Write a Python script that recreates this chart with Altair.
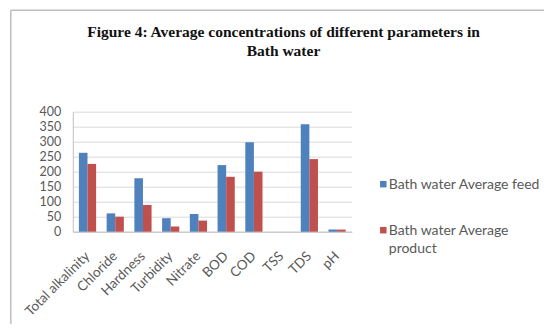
import altair as alt
import pandas as pd

categories = ["Total alkalinity", "Chloride", "Hardness", "Turbidity", "Nitrate",
              "BOD", "COD", "TSS", "TDS", "pH"]
feed = [263, 61, 178, 45, 59, 222, 298, 0, 358, 7]
product = [226, 50, 89, 17, 37, 183, 200, 0, 242, 7]
series = ["Bath water Average feed", "Bath water Average product"]
colors = ["#4F81BD", "#C0504D"]
y_ticks = [0, 50, 100, 150, 200, 250, 300, 350, 400]
title_text = "Figure 4: Average concentrations of different parameters in\nBath water"

rows = []
for c, f, p in zip(categories, feed, product):
    rows.append({"parameter": c, "series": series[0], "value": f})
    rows.append({"parameter": c, "series": series[1], "value": p})
df = pd.DataFrame(rows)

color_scale = alt.Scale(domain=series, range=colors)

bars = alt.Chart(df).mark_bar().encode(
    x=alt.X("parameter:N", sort=categories,
            scale=alt.Scale(paddingInner=0.38, paddingOuter=0.22),
            axis=alt.Axis(title=None, labelAngle=-45, labelAlign="right",
                          labelBaseline="middle", labelPadding=22, ticks=False,
                          labelFontSize=13.5)),
    xOffset=alt.XOffset("series:N", sort=series),
    y=alt.Y("value:Q", scale=alt.Scale(domain=[0, 400]),
            axis=alt.Axis(title=None, values=y_ticks, ticks=False, labelPadding=12,
                          labelFontSize=12.5)),
    color=alt.Color("series:N", scale=color_scale, legend=None),
)

leg_df = pd.DataFrame({"series": series,
                       "label": ["Bath water Average feed", "Bath water Average\nproduct"]})
leg_y = [72.5, 118.5]
legend_layers = []
for i, s in enumerate(series):
    base = alt.Chart(leg_df).transform_filter(alt.datum.series == s)
    legend_layers.append(
        base.mark_square(size=42, opacity=1).encode(
            x=alt.value(310.5), y=alt.value(leg_y[i]),
            color=alt.Color("series:N", scale=color_scale, legend=None)))
    legend_layers.append(
        base.mark_text(align="left", baseline="alphabetic", lineBreak="\n",
                       lineHeight=18, font="Lato", fontSize=14, color="#595959").encode(
            x=alt.value(316), y=alt.value(leg_y[i] + 5), text="label:N"))

frame_df = pd.DataFrame({"a": [0]})
frame_left = alt.Chart(frame_df).mark_rule(color="#BFBFBF", strokeWidth=1.5).encode(
    x=alt.value(-62), y=alt.value(-101.5), y2=alt.value(230))
frame_top = alt.Chart(frame_df).mark_rule(color="#BFBFBF", strokeWidth=1.5).encode(
    x=alt.value(-62), x2=alt.value(500), y=alt.value(-101.5))

title_df = pd.DataFrame({"t": [title_text]})
title = alt.Chart(title_df).mark_text(
    align="center", baseline="alphabetic", lineBreak="\n", lineHeight=19,
    font="Liberation Serif", fontSize=15.5, fontWeight="bold", color="#111111"
).encode(x=alt.value(210.7), y=alt.value(-75), text="t:N")

chart = alt.layer(frame_left, frame_top, title, bars, *legend_layers).properties(
    width=279, height=120,
    padding={"left": 64.8, "top": 103.7, "right": 192, "bottom": 92},
    autosize=alt.AutoSizeParams(type="none"),
).configure_view(stroke=None).configure_axis(
    labelFont="Lato", labelColor="#595959",
    gridColor="#D9D9D9", domainColor="#BFBFBF", grid=True
).configure_axisX(grid=False)

chart.save("out.html", embed_options={"renderer": "svg", "actions": False})
